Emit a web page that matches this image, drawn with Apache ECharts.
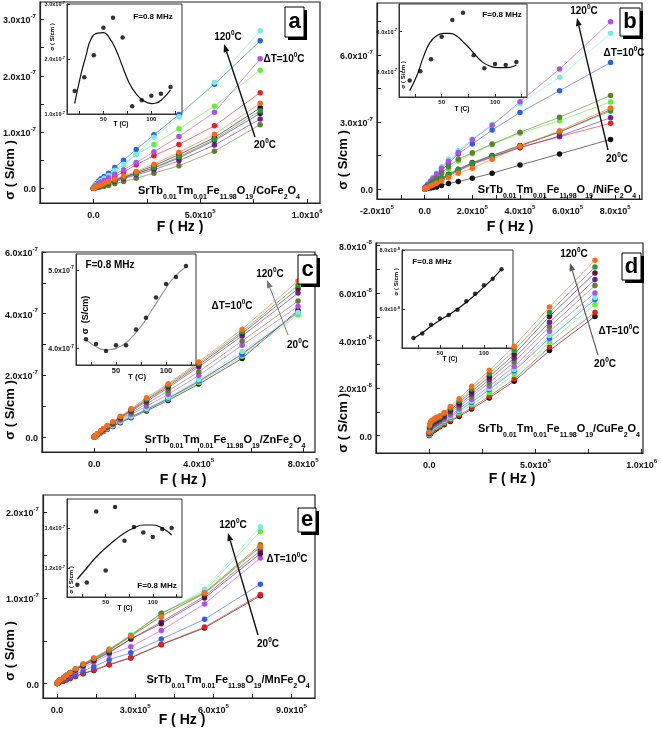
<!DOCTYPE html>
<html><head><meta charset="utf-8">
<script src="https://cdn.jsdelivr.net/npm/echarts@6/dist/echarts.min.js"></script>
<style>html,body{margin:0;padding:0;background:#fff}#c{width:661px;height:731px}</style>
</head><body><div id="c"></div>
<script>
// ---------- DATA ----------
const FREQ = [200, 2000, 6000, 12500, 25000, 35400, 50000, 70700, 100000, 141000, 200000, 283000, 400000, 566000, 780000];
const TEMPS = [20, 30, 40, 50, 60, 70, 80, 90, 100, 110, 120];

// panel a (x1e-7 S/cm), rows T=20..120
const sigmaA = [
 [0.001,0.006,0.014,0.025,0.045,0.06,0.08,0.11,0.15,0.20,0.28,0.40,0.60,0.90,1.43],
 [0.002,0.01,0.025,0.04,0.065,0.085,0.11,0.16,0.21,0.29,0.42,0.58,0.78,1.11,1.70],
 [0.003,0.015,0.035,0.06,0.10,0.13,0.17,0.23,0.31,0.42,0.60,0.78,1.06,1.46,2.10],
 [0.004,0.02,0.045,0.08,0.13,0.17,0.21,0.27,0.37,0.50,0.69,0.95,1.31,1.85,2.62],
 [0.003,0.017,0.04,0.07,0.11,0.14,0.18,0.23,0.32,0.43,0.60,0.91,1.27,1.88,2.80],
 [0.003,0.014,0.03,0.05,0.09,0.11,0.14,0.19,0.25,0.33,0.46,0.65,0.92,1.35,2.30],
 [0.001,0.004,0.008,0.012,0.02,0.028,0.038,0.05,0.08,0.12,0.18,0.27,0.40,0.66,1.13],
 [0.001,0.005,0.012,0.02,0.035,0.05,0.065,0.09,0.12,0.17,0.24,0.33,0.49,0.77,1.23],
 [0.001,0.005,0.013,0.022,0.04,0.055,0.075,0.10,0.14,0.19,0.26,0.36,0.54,0.85,1.33],
 [0.001,0.006,0.013,0.023,0.04,0.055,0.075,0.10,0.14,0.19,0.26,0.37,0.56,0.87,1.38],
 [0.002,0.008,0.018,0.03,0.05,0.065,0.09,0.12,0.16,0.22,0.30,0.43,0.64,0.96,1.51]
];
// panel b (x1e-7)
const sigmaB = [
 [0.001,0.006,0.015,0.025,0.045,0.06,0.09,0.16,0.24,0.33,0.48,0.70,1.07,1.57,2.22],
 [0.003,0.02,0.05,0.09,0.16,0.22,0.30,0.42,0.58,0.80,1.10,1.42,1.86,2.34,2.94],
 [0.004,0.03,0.07,0.13,0.23,0.32,0.44,0.62,0.90,1.25,1.58,1.98,2.49,3.06,3.90],
 [0.005,0.04,0.09,0.17,0.30,0.41,0.57,0.82,1.15,1.57,2.01,2.64,3.42,4.40,5.66],
 [0.006,0.05,0.12,0.22,0.38,0.52,0.72,1.00,1.33,1.72,2.24,2.90,3.81,5.00,6.97],
 [0.006,0.05,0.11,0.20,0.35,0.48,0.67,0.93,1.24,1.63,2.20,2.85,3.91,5.37,7.49],
 [0.004,0.03,0.08,0.14,0.25,0.35,0.48,0.70,1.00,1.33,1.62,2.01,2.54,3.21,4.19],
 [0.003,0.02,0.05,0.09,0.16,0.22,0.31,0.44,0.62,0.84,1.14,1.45,1.85,2.37,3.19],
 [0.003,0.02,0.05,0.10,0.17,0.24,0.33,0.47,0.66,0.88,1.18,1.50,1.95,2.55,3.55],
 [0.003,0.02,0.05,0.10,0.17,0.24,0.33,0.47,0.65,0.87,1.16,1.47,1.92,2.55,3.49],
 [0.002,0.015,0.04,0.07,0.13,0.18,0.25,0.36,0.50,0.70,0.93,1.33,1.90,2.61,3.63]
];
// panel c (x1e-7)
const sigmaC = [
 [0.002,0.015,0.04,0.08,0.14,0.19,0.26,0.35,0.47,0.63,0.85,1.19,1.72,2.55,4.11],
 [0.002,0.016,0.042,0.083,0.145,0.20,0.27,0.36,0.49,0.66,0.89,1.25,1.80,2.70,4.05],
 [0.002,0.016,0.042,0.082,0.145,0.20,0.27,0.36,0.49,0.65,0.88,1.23,1.77,2.62,3.97],
 [0.002,0.016,0.043,0.084,0.15,0.20,0.27,0.37,0.50,0.67,0.90,1.26,1.82,2.68,4.04],
 [0.002,0.017,0.044,0.086,0.15,0.21,0.28,0.38,0.51,0.68,0.92,1.29,1.86,2.78,4.04],
 [0.002,0.018,0.047,0.092,0.16,0.22,0.30,0.41,0.55,0.74,1.00,1.39,2.00,2.98,4.24],
 [0.002,0.019,0.05,0.097,0.17,0.235,0.32,0.43,0.58,0.79,1.08,1.50,2.12,3.12,4.41],
 [0.003,0.02,0.053,0.10,0.18,0.25,0.34,0.46,0.62,0.84,1.15,1.60,2.28,3.28,4.67],
 [0.003,0.021,0.055,0.105,0.19,0.26,0.35,0.47,0.64,0.87,1.20,1.65,2.34,3.36,4.81],
 [0.003,0.022,0.057,0.11,0.20,0.27,0.36,0.48,0.66,0.89,1.23,1.69,2.39,3.42,4.92],
 [0.003,0.025,0.06,0.12,0.21,0.28,0.38,0.50,0.68,0.92,1.28,1.73,2.44,3.50,5.06]
];
// panel d (x1e-8)
const sigmaD = [
 [0.01,0.03,0.08,0.15,0.24,0.30,0.37,0.46,0.60,0.81,1.12,1.59,2.29,3.58,5.02],
 [0.02,0.06,0.11,0.18,0.27,0.33,0.40,0.49,0.64,0.86,1.18,1.66,2.38,3.73,5.19],
 [0.04,0.11,0.18,0.25,0.33,0.39,0.46,0.56,0.72,0.95,1.30,1.81,2.57,3.93,5.52],
 [0.05,0.16,0.23,0.30,0.38,0.44,0.51,0.62,0.79,1.03,1.41,1.94,2.73,4.10,5.73],
 [0.06,0.17,0.25,0.32,0.40,0.46,0.53,0.64,0.81,1.06,1.45,1.98,2.79,4.22,5.82],
 [0.07,0.21,0.29,0.36,0.44,0.50,0.57,0.68,0.86,1.12,1.52,2.08,2.91,4.39,6.01],
 [0.09,0.26,0.36,0.43,0.50,0.56,0.63,0.75,0.95,1.22,1.65,2.23,3.10,4.58,6.32],
 [0.10,0.31,0.41,0.48,0.56,0.61,0.68,0.80,1.02,1.30,1.75,2.36,3.26,4.77,6.57],
 [0.12,0.35,0.47,0.54,0.61,0.66,0.73,0.86,1.09,1.38,1.86,2.48,3.42,5.02,6.85],
 [0.13,0.40,0.52,0.59,0.66,0.71,0.78,0.92,1.15,1.46,1.96,2.61,3.58,5.19,7.10],
 [0.15,0.45,0.58,0.65,0.72,0.77,0.84,0.98,1.23,1.55,2.08,2.75,3.76,5.42,7.38]
];
// panel e (x1e-7)
const sigmaE = [
 [0.001,0.006,0.015,0.022,0.032,0.045,0.06,0.085,0.117,0.155,0.22,0.30,0.455,0.65,1.025],
 [0.001,0.006,0.015,0.023,0.033,0.046,0.062,0.087,0.12,0.16,0.225,0.305,0.46,0.66,1.04],
 [0.003,0.012,0.03,0.045,0.07,0.10,0.13,0.175,0.232,0.30,0.40,0.57,0.82,1.08,1.775],
 [0.002,0.008,0.02,0.03,0.045,0.06,0.08,0.11,0.15,0.20,0.28,0.36,0.52,0.75,1.16],
 [0.003,0.012,0.03,0.045,0.07,0.10,0.13,0.175,0.23,0.30,0.40,0.57,0.81,1.10,1.83],
 [0.002,0.01,0.025,0.038,0.056,0.08,0.105,0.145,0.19,0.25,0.34,0.43,0.62,0.93,1.465],
 [0.003,0.012,0.03,0.045,0.068,0.095,0.125,0.17,0.225,0.29,0.39,0.56,0.82,1.06,1.62],
 [0.003,0.011,0.028,0.042,0.064,0.09,0.12,0.165,0.215,0.28,0.37,0.52,0.72,1.02,1.55],
 [0.003,0.011,0.028,0.042,0.063,0.088,0.118,0.16,0.21,0.27,0.36,0.52,0.70,1.00,1.515],
 [0.003,0.012,0.03,0.045,0.067,0.094,0.124,0.17,0.225,0.29,0.385,0.55,0.79,1.05,1.59],
 [0.003,0.013,0.032,0.047,0.07,0.098,0.13,0.175,0.23,0.30,0.40,0.56,0.78,1.06,1.60]
];

// insets: sigma at F = 0.8 MHz vs T, and the drawn fit curves
const insetA = [1.42,1.67,2.07,2.57,2.75,2.39,1.14,1.25,1.33,1.37,1.49];
const fitTA = [20,26,32,37,44,50,56,63,70,77,84,91,100,105,112,120];
const fitSA = [1.19,1.68,2.07,2.36,2.47,2.48,2.39,2.17,1.86,1.56,1.37,1.25,1.19,1.20,1.28,1.44];
const insetB = [2.33,3.03,3.93,5.63,6.88,7.43,4.23,3.25,3.58,3.50,3.73];
const fitTB = [20,27,33,39,45,52,58,64,70,77,83,89,95,102,108,114,120];
const fitSB = [1.58,2.75,4.13,5.18,5.68,5.88,5.88,5.68,5.25,4.68,4.13,3.68,3.43,3.30,3.30,3.33,3.50];
const insetC = [4.115,4.055,3.965,4.04,4.04,4.24,4.39,4.65,4.82,4.91,5.05];
const fitTC = [20,25,30,35,40,45,50,55,60,65,70,75,80,85,90,95,100,105,110,115,120];
const fitSC = [4.11,4.06,4.02,3.99,3.98,3.985,4.00,4.03,4.07,4.13,4.20,4.28,4.37,4.47,4.57,4.67,4.77,4.86,4.93,4.99,5.04];
const insetD = [5.02,5.17,5.47,5.68,5.80,5.98,6.26,6.52,6.81,7.03,7.35];
const fitTD = [20,30,40,50,60,70,80,90,100,110,120];
const fitSD = [5.00,5.20,5.42,5.62,5.80,6.00,6.23,6.48,6.75,7.03,7.35];
const insetE = [1.033,1.056,1.766,1.176,1.81,1.473,1.61,1.556,1.51,1.59,1.60];
const fitTE = [20,30,40,50,60,70,80,90,100,110,120];
const fitSE = [1.09,1.20,1.31,1.40,1.48,1.55,1.60,1.63,1.63,1.60,1.53];

// tick labels
const xLabA = [0, 500000, 1000000], yLabA = [0, 1, 2, 3];
const xLabB = [-200000, 0, 200000, 400000, 600000, 800000], yLabB = [0, 3, 6];
const xLabC = [0, 400000, 800000], yLabC = [0, 2, 4, 6];
const xLabD = [0, 500000, 1000000], yLabD = [0, 2, 4, 6, 8];
const xLabE = [0, 300000, 600000, 900000], yLabE = [0, 1, 2];
const insXLab = [50, 100];
const insYLabA = [1, 2, 3], insYLabB = [3, 6], insYLabC = [4, 5], insYLabD = [6, 8], insYLabE = [1.2, 1.6];

// ---------- STYLE / LAYOUT ----------
const FONT = '"Liberation Sans", Arial, Helvetica, sans-serif';
const COLORS = ['#111111','#ee1d1d','#5df03c','#2c5ff0','#72f0dc','#b04cf0','#607f2c','#6b1ea0','#5e1232','#1f9b3d','#ff6b16'];

const MAIN = [
 {sig:sigmaA, exp:-7, grid:{left:40,top:2,width:280,height:201}, x:[-250000,1060000], y:[-0.26,3.31],
  xLab:xLabA, xTick:[-250000,0,250000,500000,750000,1000000], yLab:yLabA, yTick:[0,0.5,1,1.5,2,2.5,3]},
 {sig:sigmaB, exp:-7, grid:{left:377,top:3,width:265,height:196}, x:[-200000,912000], y:[-0.45,8.33],
  xLab:xLabB, xTick:[-200000,-100000,0,100000,200000,300000,400000,500000,600000,700000,800000,900000], yLab:yLabB, yTick:[0,1.5,3,4.5,6,7.5]},
 {sig:sigmaC, exp:-7, grid:{left:42,top:252,width:273,height:200}, x:[-200000,845000], y:[-0.48,6.0],
  xLab:xLabC, xTick:[-200000,0,200000,400000,600000,800000], yLab:yLabC, yTick:[0,1,2,3,4,5,6]},
 {sig:sigmaD, exp:-8, grid:{left:376,top:243,width:267,height:210}, x:[-250000,1006000], y:[-0.73,8.11],
  xLab:xLabD, xTick:[-250000,0,250000,500000,750000,1000000], yLab:yLabD, yTick:[0,1,2,3,4,5,6,7,8]},
 {sig:sigmaE, exp:-7, grid:{left:43,top:495,width:272,height:203}, x:[-54000,990000], y:[-0.167,2.2],
  xLab:xLabE, xTick:[0,150000,300000,450000,600000,750000,900000], yLab:yLabE, yTick:[0,0.5,1,1.5,2]}
];
const INS = [
 {pts:insetA, fT:fitTA, fS:fitSA, exp:-7, grid:{left:67,top:4,width:115,height:110}, x:[12,132], y:[1.0,3.0], yLab:insYLabA, fs:5.5, fit:'#111'},
 {pts:insetB, fT:fitTB, fS:fitSB, exp:-7, grid:{left:399,top:4,width:128,height:93}, x:[10,130], y:[1.10,8.08], yLab:insYLabB, fs:5.5, fit:'#111'},
 {pts:insetC, fT:fitTC, fS:fitSC, exp:-7, grid:{left:76,top:254,width:120,height:111}, x:[10,130], y:[3.787,5.204], yLab:insYLabC, fs:7, fit:'#999'},
 {pts:insetD, fT:fitTD, fS:fitSD, exp:-8, grid:{left:402,top:250,width:111,height:98}, x:[7,133], y:[4.68,8.0], yLab:insYLabD, fs:5.5, fit:'#111'},
 {pts:insetE, fT:fitTE, fS:fitSE, exp:-7, grid:{left:67,top:499,width:115,height:98}, x:[9,131], y:[0.91,1.89], yLab:insYLabE, fs:5.5, fit:'#111'}
];

function richFor(fs){
  const lh = Math.round(fs*1.35);
  return {m:{fontSize:fs,fontWeight:'bold',fontFamily:FONT,color:'#111',verticalAlign:'bottom',lineHeight:lh},
          p:{fontSize:Math.max(4,fs*0.68),fontWeight:'bold',fontFamily:FONT,color:'#111',verticalAlign:'top',lineHeight:lh}};
}
function fmtX(v){
  if (v === 0) return '{m|0.0}';
  const e = Math.floor(Math.log10(Math.abs(v)) + 1e-9);
  const m = v / Math.pow(10, e);
  return '{m|' + m.toFixed(1) + 'x10}{p|' + e + '}';
}
function fmtY(exp){ return v => v === 0 ? '{m|0.0}' : '{m|' + v.toFixed(1) + 'x10}{p|' + exp + '}'; }

const grids = [], xAxes = [], yAxes = [], series = [];
MAIN.forEach((P, k) => {
  const gi = grids.length;
  grids.push(Object.assign({show:true, borderColor:'#222', borderWidth:1.2, containLabel:false}, P.grid));
  xAxes.push({type:'value', gridIndex:gi, min:P.x[0], max:P.x[1],
    axisLine:{onZero:false, lineStyle:{color:'#222', width:1.2}},
    axisTick:{inside:true, length:4, customValues:P.xTick, lineStyle:{color:'#222'}},
    axisLabel:{customValues:P.xLab, formatter:fmtX, margin:5, rich:richFor(9)},
    splitLine:{show:false}});
  yAxes.push({type:'value', gridIndex:gi, min:P.y[0], max:P.y[1],
    axisLine:{onZero:false, lineStyle:{color:'#222', width:1.2}},
    axisTick:{inside:true, length:4, customValues:P.yTick, lineStyle:{color:'#222'}},
    axisLabel:{customValues:P.yLab, formatter:fmtY(P.exp), margin:4, rich:richFor(9)},
    splitLine:{show:false}});
  P.sig.forEach((row, i) => {
    series.push({type:'line', xAxisIndex:gi, yAxisIndex:gi, name:TEMPS[i]+'C',
      data: FREQ.map((f, j) => [f, row[j]]), symbol:'circle', symbolSize:5.5,
      itemStyle:{color:COLORS[i]}, lineStyle:{color:COLORS[i], width:1, opacity:0.6},
      emphasis:{disabled:true}, z:3, clip:false});
  });
  const I = INS[k];
  const ii = grids.length;
  grids.push(Object.assign({show:true, borderColor:'#333', borderWidth:1, backgroundColor:'#fff', containLabel:false}, I.grid));
  xAxes.push({type:'value', gridIndex:ii, min:I.x[0], max:I.x[1],
    axisLine:{onZero:false, lineStyle:{color:'#333', width:1}},
    axisTick:{inside:true, length:3, customValues:[25,50,75,100,125].filter(v=>v>I.x[0]&&v<I.x[1]), lineStyle:{color:'#333'}},
    axisLabel:{customValues:insXLab, margin:2, fontSize:I.fs+0.5, fontWeight:'bold', fontFamily:FONT, color:'#111'},
    splitLine:{show:false}});
  yAxes.push({type:'value', gridIndex:ii, min:I.y[0], max:I.y[1],
    axisLine:{onZero:false, lineStyle:{color:'#333', width:1}},
    axisTick:{inside:true, length:3, customValues:I.yLab, lineStyle:{color:'#333'}},
    axisLabel:{customValues:I.yLab, formatter:fmtY(I.exp), margin:2, rich:richFor(I.fs)},
    splitLine:{show:false}});
  series.push({type:'line', xAxisIndex:ii, yAxisIndex:ii, data:I.fT.map((t,j)=>[t, I.fS[j]]),
    smooth:0.5, symbol:'none', lineStyle:{color:I.fit, width:1.2}, z:6, emphasis:{disabled:true}});
  series.push({type:'scatter', xAxisIndex:ii, yAxisIndex:ii, data:TEMPS.map((t,j)=>[t, I.pts[j]]),
    symbolSize:4.5, itemStyle:{color:'#000'}, z:7, emphasis:{disabled:true}});
});

// ---------- ANNOTATIONS ----------
const G = [];
function tx(x, y, text, rich, fs, extra){
  G.push(Object.assign({type:'text', x, y, z:100, style:{text, rich, fontSize:fs, fontWeight:'bold', fontFamily:FONT,
    fill:'#000', align:'center', verticalAlign:'middle'}}, extra || {}));
}
const RL = {n:{fontSize:10,fontWeight:'bold',fontFamily:FONT,fill:'#000',verticalAlign:'bottom',lineHeight:13},
            s:{fontSize:6.5,fontWeight:'bold',fontFamily:FONT,fill:'#000',verticalAlign:'top',lineHeight:13}};
const RC = {n:{fontSize:11,fontWeight:'bold',fontFamily:FONT,fill:'#000',verticalAlign:'top',lineHeight:15},
            s:{fontSize:7,fontWeight:'bold',fontFamily:FONT,fill:'#000',verticalAlign:'bottom',lineHeight:15}};
function compound(m){ return '{n|SrTb}{s|0.01}{n|Tm}{s|0.01}{n|Fe}{s|11.98}{n|O}{s|19}{n|/' + m + 'Fe}{s|2}{n|O}{s|4}'; }
function arrow(x1, y1, x2, y2, color, w){
  const dx = x2-x1, dy = y2-y1, L = Math.hypot(dx, dy), ux = dx/L, uy = dy/L, hl = 8, hw = 3;
  const bx = x2 - ux*hl, by = y2 - uy*hl;
  G.push({type:'line', z:100, shape:{x1, y1, x2:bx, y2:by}, style:{stroke:color, lineWidth:w}});
  G.push({type:'polygon', z:100, shape:{points:[[x2,y2],[bx-uy*hw, by+ux*hw],[bx+uy*hw, by-ux*hw]]}, style:{fill:color}});
}
function pbox(x, y, w, h, letter){
  G.push({type:'rect', z:99, shape:{x:x+3, y:y+3, width:w, height:h}, style:{fill:'#000'}});
  G.push({type:'rect', z:99, shape:{x, y, width:w, height:h}, style:{fill:'#fff', stroke:'#000', lineWidth:1}});
  G.push({type:'text', z:100, x:x+w/2, y:y+h/2, style:{text:letter, fontSize:22, fontWeight:'bold', fontFamily:FONT,
    fill:'#000', align:'center', verticalAlign:'middle'}});
}
const T120 = '{n|120}{s|0}{n|C}', T20 = '{n|20}{s|0}{n|C}', DT = '{n|\u0394T=10}{s|0}{n|C}';
const ANN = [
 {cmp:'Co', c:[219,193], t120:[228,36], dt:[284,58], t20:[265,144], ar:[255,137,224,44], ac:'#111', aw:1.4, box:[285,7,19,30,'a'],
  yn:[10,170], xn:[180,227], ti:[153,17,8], sy:[52,37,6], tc:[121,124,6.5]},
 {cmp:'Ni', c:[557,192], t120:[584,10], dt:[624,52], t20:[617,158], ar:[608,150,577,18], ac:'#111', aw:1.4, box:[620,8,20,28,'b'],
  yn:[343,160], xn:[510,227], ti:[502,15,8], sy:[403,75,6], tc:[462,109,6.5]},
 {cmp:'Zn', c:[225,442], t120:[270,273], dt:[232,305], t20:[298,344], ar:[288,335,267,280], ac:'#777', aw:1, box:[298,255,19,29,'c'],
  yn:[10,410], xn:[183,480], ti:[110,265,10], sy:[86,315,9], tc:[137,377,8]},
 {cmp:'Cu', c:[559,431], t120:[574,253], dt:[619,330], t20:[605,363], ar:[598,355,570,263], ac:'#555', aw:1.1, box:[622,253,19,27,'d'],
  yn:[343,423], xn:[512,479], ti:[432,262,8], sy:[396,282,6], tc:[450,359,6.5]},
 {cmp:'Mn', c:[228,682], t120:[233,524], dt:[287,558], t20:[268,643], ar:[258,635,228,533], ac:'#111', aw:1.4, box:[298,508,18,24,'e'],
  yn:[10,651], xn:[182,720], ti:[157,586,8], sy:[71,580,6], tc:[125,608,6.5]}
];
ANN.forEach(A => {
  tx(A.c[0], A.c[1], compound(A.cmp), RC, 11);
  tx(A.t120[0], A.t120[1], T120, RL, 10);
  tx(A.dt[0], A.dt[1], DT, RL, 10);
  tx(A.t20[0], A.t20[1], T20, RL, 10);
  arrow(A.ar[0], A.ar[1], A.ar[2], A.ar[3], A.ac, A.aw);
  pbox(A.box[0], A.box[1], A.box[2], A.box[3], A.box[4]);
  tx(A.yn[0], A.yn[1], '\u03c3 ( S/cm )', null, 13, {rotation:Math.PI/2});
  tx(A.xn[0], A.xn[1], 'F ( Hz )', null, 14);
  tx(A.ti[0], A.ti[1], 'F=0.8 MHz', null, A.ti[2]);
  tx(A.sy[0], A.sy[1], A.cmp === 'Zn' ? '\u03c3  (S/cm)' : '\u03c3 ( S/cm )', null, A.sy[2], {rotation:Math.PI/2});
  tx(A.tc[0], A.tc[1], 'T (C)', null, A.tc[2]);
});

const chart = echarts.init(document.getElementById('c'), null, {renderer:'canvas'});
chart.setOption({animation:false, backgroundColor:'#fff', grid:grids, xAxis:xAxes, yAxis:yAxes, series, graphic:G});
</script></body></html>
